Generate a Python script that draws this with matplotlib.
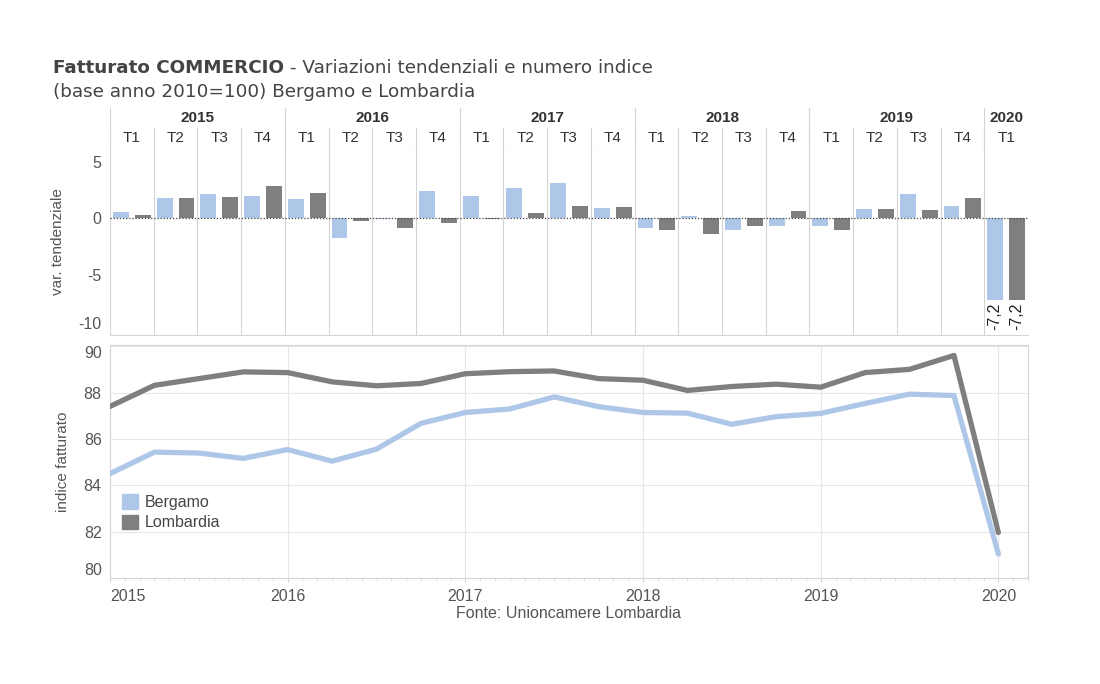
import numpy as np
import matplotlib
matplotlib.use("Agg")
from matplotlib import pyplot as plt
from matplotlib.patches import Patch

plt.rcParams["axes.unicode_minus"] = False

# dati
anni = ["2015", "2016", "2017", "2018", "2019", "2020"]
trimestri = ["T1", "T2", "T3", "T4"] * 5 + ["T1"]
var_bergamo = [0.56, 1.8, 2.15, 1.97, 1.7, -1.7, -0.1, 2.4, 1.97, 2.68, 3.1,
               0.9, -0.82, 0.2, -1.03, -0.68, -0.68, 0.82, 2.15, 1.1, -7.2]
var_lombardia = [0.3, 1.8, 1.9, 2.85, 2.24, -0.2, -0.9, -0.4, -0.05, 0.47, 1.1,
                 1.0, -1.03, -1.38, -0.68, 0.65, -1.03, 0.82, 0.74, 1.8, -7.2]
ind_bergamo = [84.5, 85.43, 85.39, 85.16, 85.54, 85.04, 85.56, 86.67, 87.14, 87.29,
               87.81, 87.39, 87.14, 87.11, 86.63, 86.96, 87.1, 87.53, 87.93, 87.87, 81.04]
ind_lombardia = [87.4, 88.31, 88.6, 88.89, 88.86, 88.46, 88.29, 88.39, 88.81, 88.9,
                 88.93, 88.6, 88.53, 88.09, 88.26, 88.36, 88.23, 88.86, 89.0, 89.6, 81.96]
etichette_2020 = ["-7,2", "-7,2"]

c_berg = "#aec7e8"
c_lomb = "#7f7f7f"
c_grid = "#e6e6e6"
c_sep = "#d4d4d4"
c_txt = "#555555"
font = "Liberation Sans"

W, H = 1100, 684
fig = plt.figure(figsize=(W / 100, H / 100), dpi=100)


def box(x0, y0, x1, y1):
    return [x0 / W, 1 - y1 / H, (x1 - x0) / W, (y1 - y0) / H]


fig.text(53 / W, 1 - 73 / H, "Fatturato COMMERCIO", fontsize=13.2, fontweight="bold",
         color="#444444", family="DejaVu Sans", va="baseline")
t1 = fig.texts[-1]
fig.canvas.draw()
bb = t1.get_window_extent()
fig.text(bb.x1 / W, 1 - 73 / H, " - Variazioni tendenziali e numero indice", fontsize=13.2,
         color="#444444", family="DejaVu Sans", va="baseline")
fig.text(53 / W, 1 - 97 / H, "(base anno 2010=100) Bergamo e Lombardia", fontsize=13.2,
         color="#444444", family="DejaVu Sans", va="baseline")

n = len(trimestri)
xq = np.arange(n)

# intestazione anni / trimestri
axh = fig.add_axes(box(110, 108, 1028, 148))
axh.set_xlim(-0.5, n - 0.5)
axh.set_ylim(0, 2)
axh.axis("off")
inizio = 0
for k, a in enumerate(anni):
    nq = 4 if a != "2020" else 1
    axh.text(inizio + (nq - 1) / 2, 1.5, a, ha="center", va="center", fontsize=11,
             fontweight="bold", color="#333333", family=font)
    axh.plot([inizio - 0.5, inizio - 0.5], [0, 2], color=c_sep, lw=0.8)
    inizio += nq
axh.plot([n - 0.5, n - 0.5], [0, 2], color=c_sep, lw=0.8)
for i, t in enumerate(trimestri):
    axh.text(i, 0.5, t, ha="center", va="center", fontsize=11, color="#333333", family=font)
    axh.plot([i - 0.5, i - 0.5], [0, 1], color=c_sep, lw=0.8)
axh.plot([-0.5, n - 0.5], [0, 0], color=c_sep, lw=0.8)

# barre variazioni
ax1 = fig.add_axes(box(110, 148, 1028, 335))
ax1.bar(xq - 0.25, var_bergamo, width=0.36, color=c_berg, zorder=2)
ax1.bar(xq + 0.25, var_lombardia, width=0.36, color=c_lomb, zorder=2)
ax1.set_xlim(-0.5, n - 0.5)
ax1.set_ylim(-10.3, 6.2)
ax1.axhline(0, color="#444444", lw=0.9, ls=(0, (1, 1.5)), zorder=3)
for i in range(n + 1):
    ax1.axvline(i - 0.5, color=c_sep, lw=0.8, zorder=1)
ax1.set_xticks([])
ax1.set_yticks([5, 0, -5, -10])
ax1.tick_params(axis="y", length=0, labelsize=11.5, labelcolor=c_txt, pad=6)
for lab in ax1.get_yticklabels():
    lab.set_family(font)
ax1.get_yticklabels()[-1].set_va("bottom")
for s in ["top", "right", "left"]:
    ax1.spines[s].set_visible(False)
ax1.spines["bottom"].set_color(c_sep)
ax1.spines["bottom"].set_linewidth(0.8)
ax1.set_ylabel("var. tendenziale", fontsize=11, color=c_txt, family=font, labelpad=10)
for dx, v, lab in zip([-0.25, 0.25], [var_bergamo[-1], var_lombardia[-1]], etichette_2020):
    ax1.text(n - 1 + dx, v - 0.2, lab, rotation=90, ha="center", va="top",
             fontsize=11.5, color="#222222", family=font)

# linee numero indice
ax2 = fig.add_axes(box(110, 345, 1028, 578))
xt = 2015 + xq / 4
ax2.plot(xt, ind_lombardia, color=c_lomb, lw=3.8, solid_capstyle="round", zorder=3)
ax2.plot(xt, ind_bergamo, color=c_berg, lw=3.8, solid_capstyle="round", zorder=3)
ax2.set_xlim(2015, 2020.165)
ax2.set_ylim(80, 90.05)
ax2.set_yticks([80, 82, 84, 86, 88, 90])
ax2.set_xticks([2015, 2016, 2017, 2018, 2019, 2020])
ax2.set_xticks(np.arange(2015, 2020.17, 1 / 12), minor=True)
ax2.grid(True, which="major", color=c_grid, lw=0.8, zorder=0)
ax2.tick_params(axis="both", which="major", length=3, color=c_sep, labelsize=11.5,
                labelcolor=c_txt, pad=5)
ax2.tick_params(axis="y", which="major", length=0, pad=6)
ax2.tick_params(axis="x", which="minor", length=2, color=c_sep)
for lab in ax2.get_xticklabels() + ax2.get_yticklabels():
    lab.set_family(font)
ax2.get_yticklabels()[0].set_va("bottom")
ax2.get_yticklabels()[-1].set_va("top")
ax2.get_xticklabels()[0].set_ha("left")
for s in ax2.spines.values():
    s.set_color(c_sep)
    s.set_linewidth(0.8)
ax2.set_ylabel("indice fatturato", fontsize=11, color=c_txt, family=font, labelpad=10)
leg = ax2.legend(handles=[Patch(color=c_berg, label="Bergamo"),
                          Patch(color=c_lomb, label="Lombardia")],
                 loc="lower left", bbox_to_anchor=(0.013, 0.205), frameon=False,
                 borderpad=0, borderaxespad=0,
                 handlelength=1.0, handleheight=1.0, handletextpad=0.4,
                 labelspacing=0.3, prop={"family": font, "size": 11.5})
for t in leg.get_texts():
    t.set_color("#444444")

fig.text(568 / W, 1 - 614 / H, "Fonte: Unioncamere Lombardia", ha="center", va="center",
         fontsize=11.5, color=c_txt, family=font)

fig.savefig("out.png", dpi=100)
